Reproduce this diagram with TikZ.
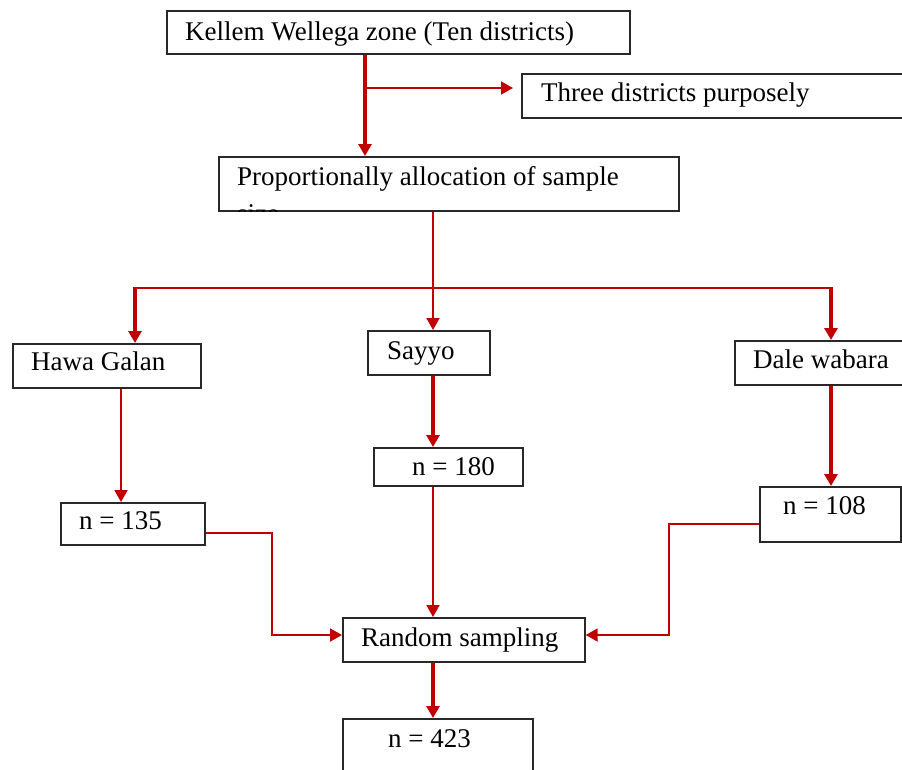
\documentclass[tikz,border=0pt]{standalone}
\usepackage{fontspec}
\setmainfont{Liberation Serif}
\usepackage{tikz}
\usetikzlibrary{arrows.meta}

\definecolor{linkred}{RGB}{192,0,0}
\definecolor{boxline}{RGB}{40,40,40}
\newcommand{\boxfont}{\fontsize{27}{29}\selectfont}

\tikzset{
	box/.style={draw=boxline, line width=1.7pt, anchor=north west, inner sep=0pt},
	boxtext/.style={anchor=base west, inner sep=0pt, font=\boxfont},
	link/.style={draw=linkred, line width=1.9pt, -{Triangle[length=12pt,width=13pt]}},
	thicklink/.style={link, line width=3.2pt},
}

\begin{document}
\begin{tikzpicture}[x=1pt,y=-1pt]
		\useasboundingbox (0,0) rectangle (902,769);

		% boxes
		\node[box, minimum width=463pt, minimum height=43pt] (zone) at (166,10) {};
		\node[box, minimum width=381pt, minimum height=44pt] (purpose) at (521,73) {};
		\node[box, minimum width=460pt, minimum height=54pt] (alloc) at (218,156) {};
		\node[box, minimum width=188pt, minimum height=44pt] (hawa) at (12,343) {};
		\node[box, minimum width=122pt, minimum height=44pt] (sayyo) at (367,330) {};
		\node[box, minimum width=168pt, minimum height=44pt] (dale) at (734,340) {};
		\node[box, minimum width=144pt, minimum height=42pt] (nhawa) at (60,502) {};
		\node[box, minimum width=149pt, minimum height=38pt] (nsayyo) at (373,447) {};
		\node[box, minimum width=141pt, minimum height=55pt] (ndale) at (759,486) {};
		\node[box, minimum width=242pt, minimum height=44pt] (random) at (342,617) {};
		\node[box, minimum width=190pt, minimum height=80pt] (total) at (342,718) {};

		% texts
		\node[boxtext] (zone-t) at ([xshift=19pt,yshift=-8pt]zone.west) {Kellem Wellega zone (Ten districts)};
		\node[boxtext] (purpose-t) at ([xshift=20pt,yshift=-6pt]purpose.west) {Three districts purposely};
		\begin{scope}
			\clip (alloc.north west) rectangle (alloc.south east);
			\node[boxtext, anchor=north west, align=left] (alloc-t) at ([xshift=19pt,yshift=-10pt]alloc.north west) {Proportionally allocation of sample\\[8pt]size};
		\end{scope}
		\node[boxtext] (hawa-t) at ([xshift=19pt,yshift=-5pt]hawa.west) {Hawa Galan};
		\node[boxtext] (sayyo-t) at ([xshift=20pt,yshift=-7pt]sayyo.west) {Sayyo};
		\node[boxtext] (dale-t) at ([xshift=19pt,yshift=-6pt]dale.west) {Dale wabara};
		\node[boxtext] (nhawa-t) at ([xshift=19pt,yshift=-6pt]nhawa.west) {n = 135};
		\node[boxtext] (nsayyo-t) at ([xshift=39pt,yshift=-9pt]nsayyo.west) {n = 180};
		\node[boxtext] (ndale-t) at ([xshift=24pt]ndale.west) {n = 108};
		\node[boxtext] (random-t) at ([xshift=19pt,yshift=-7pt]random.west) {Random sampling};
		\node[boxtext] (total-t) at ([xshift=46pt,yshift=-29pt]total.north west) {n = 423};

		% connectors
		\coordinate (split) at (365,88);
		\coordinate (forkL) at (135,288);
		\coordinate (forkM) at (433,288);
		\coordinate (forkR) at (831,288);
		\coordinate (colL) at (121,400);
		\coordinate (bendL) at (272,635);
		\coordinate (bendR) at (669,635);

		\draw[thicklink] (zone.south -| split) -- (alloc.north -| split);
		\draw[link] (split) -- ([xshift=-8pt]purpose.west |- split);
		\draw[link] (alloc.south -| forkM) -- (sayyo.north -| forkM);
		\draw[link, -] (forkL) -- (forkR);
		\draw[thicklink] ([yshift=1pt]forkL) -- (hawa.north -| forkL);
		\draw[thicklink] ([yshift=1pt]forkR) -- (dale.north -| forkR);
		\draw[link] (hawa.south -| colL) -- (nhawa.north -| colL);
		\draw[thicklink] (sayyo.south -| forkM) -- (nsayyo.north -| forkM);
		\draw[thicklink] (dale.south -| forkR) -- (ndale.north -| forkR);
		\draw[link] ([yshift=-9pt]nhawa.east) -| (bendL) -- (random.west |- bendL);
		\draw[link] ([yshift=-9.5pt]ndale.west) -| (bendR) -- (random.east |- bendR);
		\draw[link] (nsayyo.south -| forkM) -- (random.north -| forkM);
		\draw[thicklink] (random.south -| forkM) -- (total.north -| forkM);
	\end{tikzpicture}
\end{document}
